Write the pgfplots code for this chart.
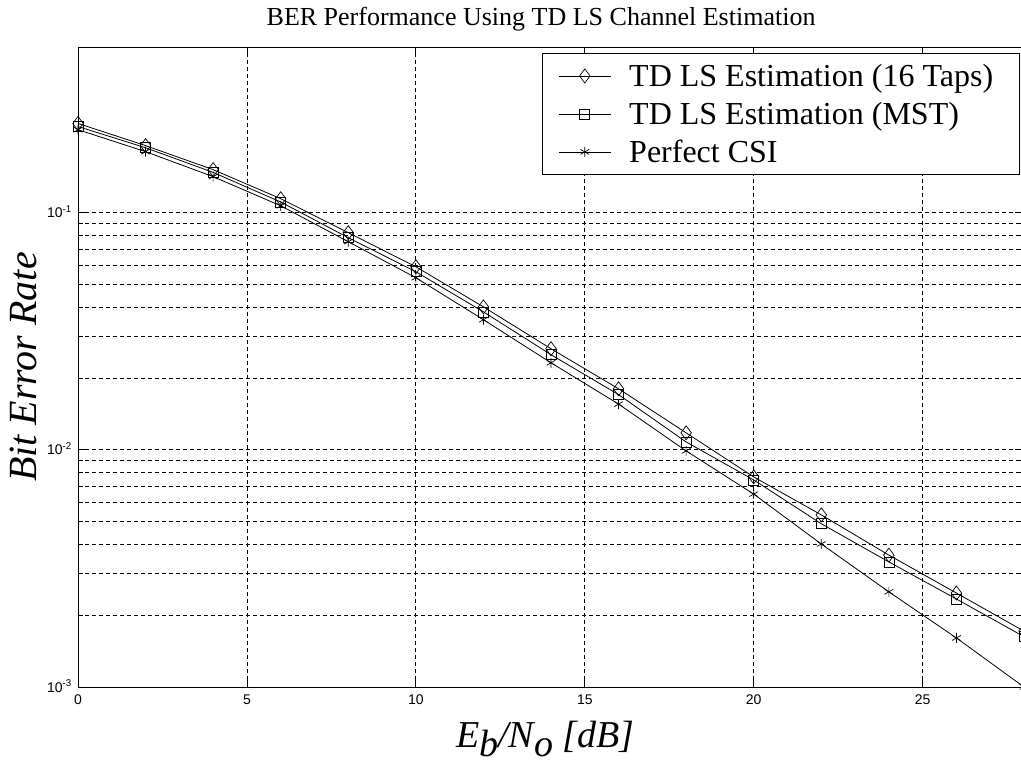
\documentclass[border=0pt]{standalone}
\usepackage{fontspec}
\setmainfont{Liberation Serif}
\setsansfont{Liberation Sans}
\usepackage{pgfplots}
\pgfplotsset{compat=1.18}

% BER curves (Eb/No in dB, bit error rate)
\pgfplotstableread{
x    ber
0    0.238
2    0.192
4    0.152
6    0.1146
8    0.0824
10   0.0592
12   0.0401
14   0.0267
16   0.0181
18   0.0118
20   0.00769
22   0.00532
24   0.00360
26   0.00249
28   0.00172
}\tapsdata
\pgfplotstableread{
x    ber
0    0.231
2    0.188
4    0.148
6    0.111
8    0.0785
10   0.0564
12   0.0382
14   0.0252
16   0.0171
18   0.0108
20   0.00747
22   0.00488
24   0.00337
26   0.00235
28   0.00163
}\mstdata
\pgfplotstableread{
x    ber
0    0.224
2    0.181
4    0.142
6    0.107
8    0.0755
10   0.0532
12   0.0354
14   0.0233
16   0.0156
18   0.0099
20   0.00651
22   0.00401
24   0.00252
26   0.00161
28   0.00100
}\csidata

\begin{document}
\begin{tikzpicture}
\useasboundingbox (-78pt,-77pt) rectangle (943pt,687pt);
\begin{axis}[
  at={(0pt,0pt)}, anchor=south west,
  scale only axis, width=946pt, height=640pt,
  xmin=0, xmax=28,
  ymode=log, ymin=1e-3, ymax=0.5,
  axis line style={line width=0.9pt},
  xtick={0,5,10,15,20,25},
  xticklabels={0,5,10,15,20,25},
  ytick={1e-3,1e-2,1e-1},
  yticklabels={10\textsuperscript{-3},10\textsuperscript{-2},10\textsuperscript{-1}},
  tick style={black, line width=0.8pt},
  major tick length=9pt, minor tick length=5pt,
  tick align=inside,
  xmajorgrids, ymajorgrids, yminorgrids,
  grid style={black, line width=0.8pt, dash pattern=on 4pt off 3pt},
  minor grid style={black, line width=0.8pt, dash pattern=on 4pt off 3pt},
  ticklabel style={font=\fontsize{14}{16}\selectfont\sffamily},
  xticklabel style={inner sep=0pt, anchor=north, yshift=-8pt},
  yticklabel style={inner sep=0pt, anchor=base east, xshift=-6pt, yshift=-5pt},
  title={BER Performance Using TD LS Channel Estimation},
  title style={font=\fontsize{26}{30}\selectfont, at={(axis description cs:0.4895,1.025)}, anchor=base, inner sep=0pt},
  xlabel={\itshape E\raisebox{-0.25em}{b}/N\raisebox{-0.25em}{o} [dB]},
  xlabel style={font=\fontsize{38}{44}\selectfont, at={(axis description cs:0.494,-0.094)}, anchor=base, inner sep=0pt},
  ylabel={\itshape Bit Error Rate},
  ylabel style={font=\fontsize{40}{46}\selectfont, at={(axis description cs:-0.0581,0.5)}, anchor=center, inner sep=0pt},
  every axis plot/.append style={black, line width=0.8pt, mark options={solid, line width=0.7pt}},
  legend cell align=left,
  legend style={at={(0.4905,0.9906)}, anchor=north west, draw=black, line width=0.8pt, fill=white,
    font=\fontsize{32}{38}\selectfont, inner xsep=16pt, inner ysep=3.5pt, row sep=0pt, column sep=15pt,
    nodes={inner xsep=3pt, inner ysep=0pt, text height=30pt, text depth=8pt}},
  legend image code/.code={\draw[mark repeat=2, mark phase=2] plot coordinates {(0pt,0pt) (26pt,0pt) (52pt,0pt)};},
]
\addplot[mark=diamond, mark size=7pt] table[x=x, y=ber] {\tapsdata};
\addlegendentry{TD LS Estimation (16 Taps)\hspace*{7pt}}
\addplot[mark=square, mark size=5pt] table[x=x, y=ber] {\mstdata};
\addlegendentry{TD LS Estimation (MST)}
\addplot[mark=asterisk, mark size=5pt] table[x=x, y=ber] {\csidata};
\addlegendentry{Perfect CSI}
\end{axis}
\end{tikzpicture}
\end{document}
